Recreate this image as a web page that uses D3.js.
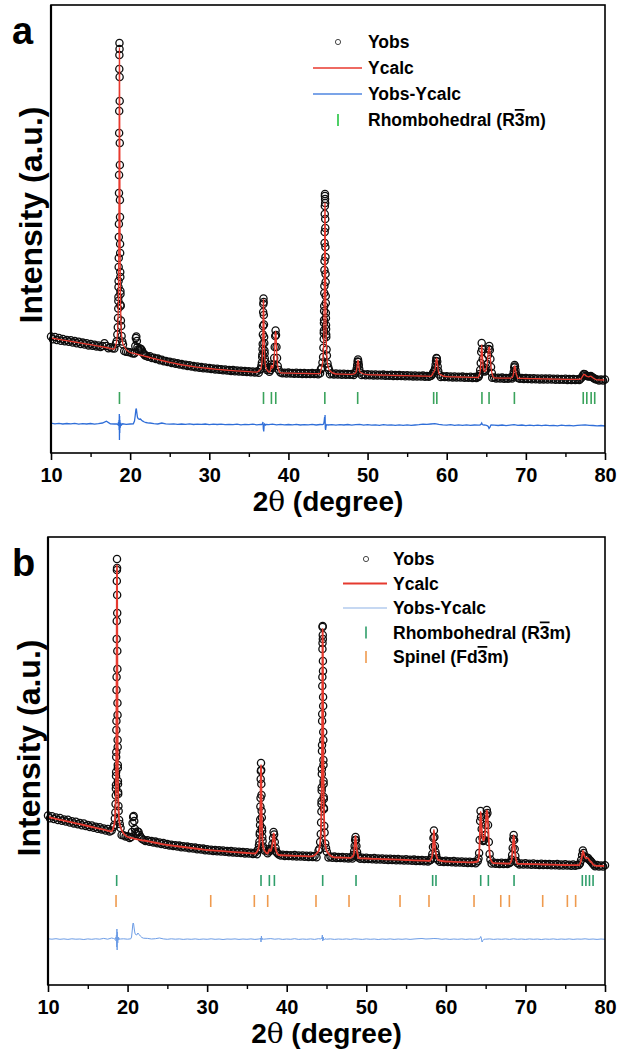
<!DOCTYPE html>
<html><head><meta charset="utf-8">
<script src="https://cdn.jsdelivr.net/npm/d3@7"></script>
<style>
body{margin:0;background:#fff}
svg text{font-family:"Liberation Sans",Arial,sans-serif;font-weight:bold;fill:#000}
</style></head>
<body><svg id="chart" width="622" height="1050"></svg>
<script>
// ---------------- DATA ----------------
const xTickValues = [10,20,30,40,50,60,70,80];
const xMinorValues = [15,25,35,45,55,65,75];
const legendLabels = ["Yobs","Ycalc","Yobs-Ycalc","Rhombohedral (R","Spinel (Fd"];

// grids: 2θ = 10 + i*step
const obsStep = 0.25, calcStep = 1, diffStep = 0.5;

// ---- panel a ----
const a_obs = [
1165,1138,1160,1129, 1150,1122,1141,1118, 1131,1112,1128,1104, 1119,1098,1112,1090,
1104,1085,1097,1076, 1091,1072,1083,1066, 1076,1060,1071,1098, 1070,1048,1058,1047,
1044,1040,1040,1040, 1030,1020,1012,1010, 1008,998,995,990, 985,980,975,970,
975,962,968,950, 952,940,944,928, 933,918,920,909, 912,900,906,892,
897,884,889,878, 882,870,878,866, 870,858,866,853, 860,848,856,845,
851,840,846,834, 842,832,838,828, 836,825,831,820, 829,818,826,815,
823,812,820,810, 818,807,815,806, 814,803,811,808, 806,806,808,806,
804,804,804,804, 806,797,803,795, 804,795,801,793, 802,792,799,791,
800,790,798,789, 799,789,797,787, 797,793,793,793, 791,788,796,786,
795,785,793,783, 793,783,791,782, 790,781,786,786, 784,779,787,778,
788,778,786,776, 786,775,783,774, 784,773,781,772, 782,771,779,770,
780,769,777,768, 778,767,775,766, 776,765,773,764, 774,763,771,762,
772,767,767,767, 765,760,768,759, 768,757,765,756, 766,755,763,754,
764,753,761,752, 762,751,759,750, 760,755,755,755, 753,753,753,752,
756,745,753,744, 754,743,751,742, 752,744,748,748, 750,742,749,740,
749,739,747,738, 748,737,745,736, 746,736,744,735, 745,734,742,733,
743,733,741,732, 742,731,739,730, 740,730,738,729, 735,735,735,735,
733,733,733,733, 736,726,734,725, 735];
const a_calc = [1150,1137,1123,1110,1096,1083,1069,1055,1040,1025,
1005,985,965,945,925,907,890,876,864,854,
845,837,830,824,818,813,809,806,803,801,
799,797,796,794,793,791,790,788,786,784,
783,781,779,777,775,773,771,769,767,765,
763,761,759,757,755,753,751,749,748,746,
745,743,742,740,739,737,736,735,733,731,730];
// [2θ, Yobs, Ycalc] across the peaks
const a_peaks = [
[18.20,1092,1088],[18.30,1118,1121],[18.38,1185,1177],[18.44,1258,1263],[18.47,1350,1337],
[18.50,1445,1451],[18.51,1520,1503],[18.52,1560,1564],[18.53,1660,1638],[18.54,1720,1726],
[18.55,1860,1833],[18.56,1950,1963],[18.57,2160,2120],[18.58,2290,2312],[18.59,2600,2543],
[18.60,2780,2814],[18.61,3200,3122],[18.62,3420,3447],[18.63,3840,3749],[18.64,3980,3969],
[18.65,4100,4050],[18.66,4040,3969],[18.67,3760,3749],[18.68,3520,3447],[18.69,3100,3122],
[18.70,2880,2814],[18.71,2530,2543],[18.72,2360,2312],[18.73,2090,2120],[18.74,2000,1963],
[18.75,1810,1833],[18.76,1760,1726],[18.77,1620,1638],[18.78,1590,1564],[18.79,1480,1503],
[18.80,1470,1451],[18.83,1325,1337],[18.86,1270,1263],[18.92,1170,1177],[19.00,1115,1121],[19.10,1085,1088],
[20.55,1000,995],[20.65,1070,993],[20.72,1150,991],[20.78,1165,990],[20.85,1120,989],
[20.92,1060,987],[21.00,1035,985],[21.12,1030,983],[21.25,1045,980],[21.38,1040,978],
[21.50,1025,975],[21.62,1000,973],[21.75,990,970],[21.88,975,967],
[36.43,835,833],[36.51,842,845],[36.59,875,870],[36.65,905,908],[36.69,960,953],
[36.71,985,987],[36.73,1040,1032],[36.75,1090,1092],[36.77,1185,1172],[36.79,1270,1274],
[36.81,1410,1391],[36.83,1490,1494],[36.85,1545,1537],[36.87,1510,1494],[36.89,1380,1391],
[36.91,1285,1274],[36.93,1160,1172],[36.95,1100,1092],[36.97,1025,1032],[36.99,995,987],
[37.01,948,953],[37.05,912,908],[37.11,868,870],[37.19,848,845],[37.27,830,833],
[37.60,812,808],[37.70,830,820],[37.78,860,850],[37.85,885,875],[37.92,860,855],
[38.00,850,848],[38.10,880,875],[38.20,950,955],[38.27,1060,1060],[38.33,1170,1180],
[38.38,1225,1215],[38.43,1180,1185],[38.49,1060,1070],[38.56,950,945],[38.65,870,870],[38.78,830,828],
[44.10,838,832],[44.20,850,853],[44.30,905,893],[44.38,960,964],[44.42,1052,1028],
[44.46,1140,1134],[44.47,1200,1171],[44.48,1225,1213],[44.49,1300,1262],[44.50,1330,1318],
[44.51,1420,1384],[44.52,1470,1459],[44.53,1600,1546],[44.54,1670,1647],[44.55,1830,1760],
[44.56,1920,1885],[44.57,2100,2020],[44.58,2210,2159],[44.59,2390,2290],[44.60,2470,2400],
[44.61,2570,2474],[44.62,2590,2500],[44.63,2540,2474],[44.64,2500,2400],[44.65,2340,2290],
[44.66,2250,2159],[44.67,2060,2020],[44.68,1960,1885],[44.69,1790,1760],[44.70,1710,1647],
[44.71,1570,1546],[44.72,1500,1459],[44.73,1400,1384],[44.74,1350,1318],[44.75,1280,1262],
[44.76,1240,1213],[44.77,1185,1171],[44.78,1160,1134],[44.82,1035,1028],[44.86,975,964],
[44.94,895,893],[45.04,858,853],[45.14,830,832],
[48.45,800,797],[48.55,815,812],[48.63,845,842],[48.69,880,878],[48.74,915,912],
[48.79,935,928],[48.84,910,912],[48.89,880,878],[48.95,840,842],[49.05,805,808],
[58.05,775,772],[58.20,790,785],[58.30,805,805],[58.38,815,812],[58.46,825,822],
[58.54,850,848],[58.60,885,880],[58.65,920,918],[58.70,950,945],[58.75,945,948],
[58.80,915,915],[58.86,865,870],[58.93,820,825],[59.05,785,790],
[64.05,770,767],[64.15,790,785],[64.23,830,820],[64.30,900,885],[64.36,1010,1000],
[64.42,1100,1080],[64.48,1040,1020],[64.55,940,925],[64.62,860,850],[64.72,830,822],
[64.82,815,814],[64.92,825,822],[65.02,845,845],[65.12,890,895],[65.22,980,990],
[65.30,1040,1045],[65.38,1070,1060],[65.45,1030,1025],[65.52,940,945],[65.60,860,865],[65.70,800,805],
[68.30,760,758],[68.40,780,778],[68.47,810,812],[68.53,855,850],[68.58,880,872],
[68.63,865,868],[68.69,830,835],[68.77,790,795],[68.88,765,767],
[76.90,742,738],[77.05,755,752],[77.20,775,772],[77.32,790,785],[77.45,788,784],
[77.60,775,772],[77.75,770,765],[77.90,765,762],[78.05,768,765],[78.20,770,768],
[78.35,760,760],[78.50,752,750],[78.65,745,742],[78.80,738,736]];
const a_diff = [298,292, 297,290, 295,291, 296,289, 294,290, 295,288, 293,300, 318,292,
290,288, 289,286, 290,292, 340,330, 305,300, 294,290, 300,292, 288,292, 287,290,
286,291, 285,289, 286,290, 284,289, 285,288, 283,287, 284,289, 282,286, 283,288,
282,286, 285,284, 288,282, 287,281, 285,282, 287,280, 284,281, 286,280, 285,290,
282,283, 279,284, 280,285, 278,283, 287,279, 283,278, 282,277, 283,278, 282,276,
281,277, 282,276, 280,284, 289,286, 290,294, 287,282, 278,283, 276,281, 277,282,
276,280, 279,285, 270,260, 279,275, 280,274, 279,283, 276,280, 274,279, 273,278,
274,279, 273,277, 272,278, 273,277, 272,276, 279,282, 277,275, 271,275, 270];
const a_diffPeaks = [
[18.30,290],[18.45,282],[18.52,305],[18.56,270],[18.59,330],[18.61,230],[18.63,390],
[18.65,130],[18.67,370],[18.69,200],[18.71,330],[18.74,250],[18.80,300],[18.90,280],[19.05,292],
[20.40,292],[20.55,320],[20.65,380],[20.72,430],[20.78,445],[20.85,400],[20.92,360],[21.00,345],
[21.15,338],[21.30,340],[21.45,328],[21.60,318],[21.80,310],[22.00,305],[22.20,302],[22.40,298],
[36.60,285],[36.72,292],[36.78,310],[36.83,240],[36.88,215],[36.93,275],[37.00,290],[37.10,280],[37.20,286],
[44.30,284],[44.45,290],[44.52,320],[44.57,360],[44.60,300],[44.63,380],[44.66,250],[44.70,230],
[44.76,270],[44.85,285],[45.00,280],
[64.20,280],[64.35,290],[64.42,300],[64.50,285],[64.70,280],[64.90,278],[65.10,275],[65.25,265],
[65.35,245],[65.45,255],[65.55,275],[65.60,280]];
const a_rhombo = [18.65,36.85,37.85,38.4,44.6,48.75,58.35,58.75,64.45,65.35,68.55,77.25,77.7,78.25,78.7];

// ---- panel b ----
const b_obs = [
1695,1668,1688,1660, 1675,1650,1670,1643, 1656,1634,1652,1625, 1638,1616,1633,1607,
1620,1598,1615,1590, 1601,1581,1596,1572, 1583,1563,1578,1556, 1565,1545,1560,1536,
1545,1580,1600,1600, 1560,1500,1498,1484, 1488,1470,1475,1600, 1525,1535,1500,1470,
1452,1440,1448,1432, 1440,1426,1434,1418, 1425,1410,1419,1403, 1410,1396,1403,1390,
1398,1385,1394,1378, 1388,1374,1384,1368, 1378,1364,1374,1358, 1368,1354,1364,1348,
1358,1345,1352,1340, 1351,1338,1347,1334, 1345,1332,1341,1328, 1339,1326,1335,1322,
1333,1320,1329,1316, 1327,1314,1323,1311, 1322,1308,1370,2100, 1400,1318,1315,1340,
1340,1470,1450,1335, 1306,1294,1303,1291, 1301,1289,1298,1287, 1299,1286,1295,1284,
1296,1283,1292,1281, 1293,1280,1289,1278, 1290,1500,3000,1600, 1330,1276,1284,1272,
1284,1271,1280,1269, 1281,1268,1277,1266, 1278,1265,1350,1400, 1276,1262,1272,1260,
1272,1259,1268,1257, 1269,1256,1265,1254, 1266,1253,1262,1251, 1263,1250,1259,1248,
1260,1247,1256,1245, 1257,1244,1253,1242, 1254,1241,1250,1239, 1251,1238,1247,1236,
1248,1300,1500,1320, 1250,1232,1241,1230, 1242,1229,1238,1227, 1239,1226,1235,1224,
1236,1223,1232,1221, 1233,1220,1229,1218, 1238,1500,1560,1440, 1600,1720,1310,1214,
1225,1212,1221,1211, 1223,1210,1219,1209, 1221,1255,1480,1300, 1219,1206,1215,1205,
1217,1204,1213,1203, 1215,1202,1211,1201, 1213,1200,1209,1199, 1211,1198,1207,1197,
1209,1196,1205,1195, 1207,1194,1203,1193, 1205,1192,1201,1200, 1245,1340,1280,1272,
1240,1235,1210,1188, 1199,1186,1195,1184, 1197];
const b_calc = [1680,1662,1644,1626,1608,1590,1572,1554,1535,1510,
1480,1460,1445,1430,1415,1400,1390,1380,1370,1360,
1350,1344,1338,1332,1326,1320,1315,1310,1305,1300,
1295,1292,1289,1286,1283,1280,1277,1274,1271,1268,
1265,1262,1259,1256,1253,1250,1247,1244,1241,1238,
1235,1232,1229,1226,1223,1220,1218,1216,1214,1212,
1210,1208,1206,1204,1202,1200,1198,1196,1194,1192,1190];
const b_peaks = [
[18.22,1580,1575],[18.32,1600,1604],[18.40,1665,1654],[18.46,1725,1730],[18.49,1810,1795],
[18.52,1895,1896],[18.53,1965,1943],[18.54,2000,1997],[18.55,2090,2062],[18.56,2130,2141],
[18.57,2280,2235],[18.58,2330,2350],[18.59,2550,2490],[18.60,2640,2660],[18.61,2950,2864],
[18.62,3080,3105],[18.63,3460,3378],[18.64,3640,3666],[18.65,4040,3933],[18.66,4150,4128],
[18.67,4260,4200],[18.68,4170,4128],[18.69,3900,3933],[18.70,3720,3666],[18.71,3340,3378],
[18.72,3160,3105],[18.73,2820,2864],[18.74,2700,2660],[18.75,2450,2490],[18.76,2380,2350],
[18.77,2200,2235],[18.78,2170,2141],[18.79,2040,2062],[18.80,2010,1997],[18.81,1930,1943],
[18.82,1910,1896],[18.85,1790,1795],[18.88,1740,1730],[18.94,1650,1654],[19.02,1610,1604],[19.12,1570,1575],
[20.45,1480,1472],[20.55,1530,1470],[20.63,1620,1468],[20.70,1680,1466],[20.77,1690,1465],
[20.84,1640,1463],[20.92,1560,1462],[21.00,1525,1460],[21.12,1510,1458],[21.25,1535,1456],
[21.38,1530,1454],[21.50,1500,1452],[21.65,1480,1450],[21.80,1462,1447],
[36.35,1348,1344],[36.43,1356,1360],[36.51,1398,1390],[36.57,1432,1435],[36.61,1505,1490],
[36.63,1525,1531],[36.65,1600,1586],[36.67,1655,1659],[36.69,1785,1757],[36.71,1870,1881],
[36.73,2060,2023],[36.75,2140,2148],[36.77,2220,2200],[36.79,2150,2148],[36.81,2010,2023],
[36.83,1900,1881],[36.85,1740,1757],[36.87,1675,1659],[36.89,1570,1586],[36.91,1540,1531],
[36.93,1480,1490],[36.97,1440,1435],[37.03,1385,1390],[37.11,1365,1360],[37.20,1345,1344],
[37.60,1318,1315],[37.70,1335,1330],[37.80,1360,1355],[37.90,1345,1350],[38.00,1345,1340],
[38.10,1365,1370],[38.20,1410,1405],[38.28,1470,1460],[38.35,1530,1515],[38.42,1505,1500],
[38.50,1430,1440],[38.60,1370,1365],[38.70,1335,1338],[38.80,1320,1318],
[44.00,1345,1338],[44.10,1360,1365],[44.20,1430,1419],[44.28,1510,1513],[44.32,1625,1599],
[44.36,1735,1740],[44.37,1810,1789],[44.38,1840,1845],[44.39,1945,1910],[44.40,1975,1985],
[44.41,2110,2072],[44.42,2160,2173],[44.43,2340,2289],[44.44,2400,2423],[44.45,2640,2574],
[44.46,2710,2741],[44.47,2990,2921],[44.48,3080,3105],[44.49,3360,3280],[44.50,3420,3426],
[44.51,3580,3525],[44.52,3590,3560],[44.53,3500,3525],[44.54,3460,3426],[44.55,3240,3280],
[44.56,3140,3105],[44.57,2880,2921],[44.58,2790,2741],[44.59,2530,2574],[44.60,2450,2423],
[44.61,2250,2289],[44.62,2200,2173],[44.63,2040,2072],[44.64,2010,1985],[44.65,1880,1910],
[44.66,1860,1845],[44.67,1770,1789],[44.68,1760,1740],[44.72,1590,1599],[44.76,1525,1513],
[44.84,1415,1419],[44.94,1370,1365],[45.04,1332,1338],
[48.30,1285,1288],[48.40,1302,1298],[48.48,1340,1335],[48.54,1390,1395],[48.60,1450,1460],
[48.65,1480,1490],[48.70,1450,1445],[48.76,1390,1385],[48.84,1330,1332],[48.95,1292,1295],
[58.10,1252,1255],[58.20,1272,1268],[58.30,1310,1300],[58.38,1380,1375],[58.44,1470,1480],
[58.50,1545,1550],[58.56,1480,1470],[58.62,1390,1395],[58.70,1330,1340],[58.78,1300,1305],
[58.88,1268,1272],[59.00,1250,1252],
[64.00,1238,1235],[64.10,1265,1260],[64.18,1320,1310],[64.25,1450,1440],[64.31,1640,1620],
[64.36,1740,1730],[64.42,1680,1690],[64.50,1560,1570],[64.60,1470,1480],[64.70,1440,1445],
[64.80,1450,1455],[64.90,1500,1495],[65.00,1600,1590],[65.08,1700,1710],[65.15,1750,1745],
[65.22,1720,1720],[65.30,1600,1610],[65.40,1430,1440],[65.50,1310,1320],[65.60,1255,1262],
[68.15,1230,1228],[68.25,1255,1250],[68.33,1300,1295],[68.40,1370,1380],[68.46,1460,1450],
[68.52,1500,1495],[68.58,1450,1455],[68.65,1360,1370],[68.73,1290,1295],[68.85,1240,1245],
[76.70,1200,1198],[76.85,1215,1212],[77.00,1250,1245],[77.12,1300,1295],[77.22,1345,1340],
[77.32,1320,1318],[77.45,1280,1285],[77.60,1270,1268],[77.75,1275,1272],[77.90,1268,1265],
[78.05,1250,1245],[78.20,1240,1235],[78.35,1225,1222],[78.50,1210,1205],[78.65,1198,1196]];
const b_diff = [462,458, 463,457, 461,456, 462,458, 460,455, 461,457, 462,458, 466,458,
470,460, 460,462, 458,480, 500,500, 468,466, 460,463, 470,461, 457,462, 458,461,
456,460, 457,461, 456,460, 457,462, 457,460, 455,460, 458,461, 456,460, 457,461,
456,460, 458,461, 464,458, 462,456, 460,457, 463,456, 460,457, 461,456, 463,460,
458,461, 456,460, 457,461, 456,462, 459,456, 461,457, 460,455, 460,457, 461,456,
460,457, 461,456, 460,463, 465,460, 462,465, 463,457, 461,456, 460,457, 461,456,
460,457, 460,460, 458,461, 456,460, 457,461, 456,462, 457,460, 456,461, 457,460,
455,460, 457,461, 456,460, 457,461, 456,460, 458,462, 457,460, 456,460, 457];
const b_diffPeaks = [
[18.25,465],[18.40,458],[18.50,475],[18.56,440],[18.60,500],[18.63,380],[18.66,560],
[18.69,350],[18.72,530],[18.76,420],[18.82,480],[18.90,450],[19.00,466],[19.10,460],
[20.40,462],[20.50,480],[20.58,540],[20.65,600],[20.70,620],[20.76,610],[20.84,560],
[20.92,520],[21.00,505],[21.15,500],[21.30,520],[21.45,505],[21.60,490],[21.80,475],[22.00,468],
[36.60,460],[36.72,470],[36.77,430],[36.82,490],[36.88,450],[36.96,465],[37.10,458],
[44.30,460],[44.42,470],[44.48,500],[44.53,440],[44.58,480],[44.65,450],[44.80,462],
[64.20,461],[64.30,470],[64.38,485],[64.45,470],[64.55,430],[64.65,445],[64.80,458]];
const b_rhombo = [18.63,36.77,37.82,38.45,44.52,48.71,58.34,58.76,64.38,65.34,68.57,77.15,77.6,78.05,78.5];
const b_spinel = [18.55,30.45,35.93,37.61,43.68,47.83,54.24,57.88,63.54,66.9,67.98,72.17,75.27,76.31];

// ---------------- HELPERS ----------------
function detailWindows(detail){
  const xs = detail.map(d=>d[0]).sort((p,q)=>p-q);
  const w=[]; let s=xs[0], e=xs[0];
  for(let i=1;i<xs.length;i++){ if(xs[i]-e>0.5){w.push([s,e]); s=xs[i];} e=xs[i]; }
  w.push([s,e]); return w;
}
function mergeSeries(grid, step, detail, k){
  const w = detailWindows(detail);
  const pts = grid.map((v,i)=>[10+i*step, v])
    .filter(p=>!w.some(([s,e])=>p[0]>=s-1e-6 && p[0]<=e+1e-6));
  detail.forEach(d=>pts.push([d[0], d[k]]));
  return pts.sort((p,q)=>p[0]-q[0]);
}

const svg = d3.select("#chart");

function drawPanel(cfg){
  const {left,right,top,bottom} = cfg.box;
  const x = d3.scaleLinear().domain([10,80]).range([left,right]);
  const y = d3.scaleLinear().domain([0,4480]).range([bottom,top]);
  const g = svg.append("g");

  const obs = mergeSeries(cfg.obs, obsStep, cfg.peaks, 1);
  const calc = mergeSeries(cfg.calc, calcStep, cfg.peaks, 2);
  const diff = mergeSeries(cfg.diff, diffStep, cfg.diffPeaks, 1);

  // Yobs circles
  g.append("g").selectAll("circle").data(obs).join("circle")
    .attr("cx",d=>x(d[0])).attr("cy",d=>y(d[1])).attr("r",3.6)
    .attr("fill","none").attr("stroke","#0d0d0d").attr("stroke-width",1.3);
  // Ycalc
  g.append("path").datum(calc)
    .attr("d",d3.line().x(d=>x(d[0])).y(d=>y(d[1])).curve(d3.curveMonotoneX))
    .attr("fill","none").attr("stroke",cfg.calcColor).attr("stroke-width",cfg.calcWidth);
  // difference
  g.append("path").datum(diff)
    .attr("d",d3.line().x(d=>x(d[0])).y(d=>y(d[1])))
    .attr("fill","none").attr("stroke",cfg.diffColor).attr("stroke-width",cfg.diffWidth);
  // Bragg ticks
  cfg.tickRows.forEach(r=>{
    g.append("g").selectAll("line").data(r.data).join("line")
      .attr("x1",d=>x(d)).attr("x2",d=>x(d)).attr("y1",r.y1).attr("y2",r.y2)
      .attr("stroke",r.color).attr("stroke-width",1.6);
  });

  // frame
  g.append("rect").attr("x",left).attr("y",top).attr("width",right-left).attr("height",bottom-top)
    .attr("fill","none").attr("stroke","#000").attr("stroke-width",1.6);
  g.append("line").attr("x1",left).attr("x2",left).attr("y1",top).attr("y2",bottom)
    .attr("stroke","#000").attr("stroke-width",2.2);

  // x axis
  const ax = g.append("g").attr("transform",`translate(0,${bottom})`)
    .call(d3.axisBottom(x).tickValues(xTickValues).tickSize(7).tickPadding(8).tickFormat(d3.format("d")));
  ax.select(".domain").remove();
  ax.selectAll("line").attr("stroke","#000").attr("stroke-width",1.6);
  ax.selectAll("text").attr("font-size",20).attr("font-family","'Liberation Sans',Arial,sans-serif").attr("font-weight","bold").attr("fill","#000");
  const axm = g.append("g").attr("transform",`translate(0,${bottom})`)
    .call(d3.axisBottom(x).tickValues(xMinorValues).tickSize(4).tickFormat(""));
  axm.select(".domain").remove();
  axm.selectAll("line").attr("stroke","#000").attr("stroke-width",1.4);

  // titles
  const xt = g.append("text").attr("x",(left+right)/2).attr("y",cfg.xTitleY)
    .attr("text-anchor","middle").attr("font-size",28);
  xt.append("tspan").text("2");
  xt.append("tspan").attr("font-family","'DejaVu Serif',serif").attr("font-weight","normal").text("θ");
  xt.append("tspan").text(" (degree)");
  g.append("text").attr("transform",`translate(${cfg.yTitleX},${cfg.yTitleY}) rotate(-90)`)
    .attr("text-anchor","middle").attr("font-size",32).text("Intensity (a.u.)");
  g.append("text").attr("x",cfg.labelX).attr("y",cfg.labelY).attr("font-size",38).text(cfg.label);

  // legend
  const L = cfg.legend;
  const lg = g.append("g");
  L.rows.forEach((row,i)=>{
    const cy = L.y0 + i*L.dy;
    if(row.type==="circle"){
      lg.append("circle").attr("cx",L.sx).attr("cy",cy).attr("r",2.6).attr("fill","none").attr("stroke","#333").attr("stroke-width",0.9);
    } else if(row.type==="line"){
      lg.append("line").attr("x1",L.lx1).attr("x2",L.lx2).attr("y1",cy).attr("y2",cy)
        .attr("stroke",row.color).attr("stroke-width",row.width);
    } else {
      lg.append("line").attr("x1",L.sx).attr("x2",L.sx).attr("y1",cy-6).attr("y2",cy+6)
        .attr("stroke",row.color).attr("stroke-width",1.6);
    }
    const t = lg.append("text").attr("x",L.tx).attr("y",cy+6).attr("font-size",17.5);
    if(row.bar){
      t.append("tspan").text(row.text);
      t.append("tspan").attr("text-decoration","overline").style("text-decoration","overline").text("3");
      t.append("tspan").text("m)");
    } else t.text(row.text);
  });
}

drawPanel({
  box:{left:51,right:605,top:5,bottom:453},
  obs:a_obs, calc:a_calc, peaks:a_peaks, diff:a_diff, diffPeaks:a_diffPeaks,
  calcColor:"#e8392e", calcWidth:1.3, diffColor:"#2f6ed8", diffWidth:1.3,
  tickRows:[{data:a_rhombo, y1:392, y2:404, color:"#3aa35c"}],
  xTitleY:511, yTitleX:42, yTitleY:215, label:"a", labelX:12, labelY:44,
  legend:{sx:338, lx1:313, lx2:362, tx:368, y0:42, dy:26,
    rows:[{type:"circle",text:legendLabels[0]},{type:"line",color:"#e8392e",width:1.3,text:legendLabels[1]},
          {type:"line",color:"#4f86e0",width:1.3,text:legendLabels[2]},{type:"tick",color:"#22c440",text:legendLabels[3],bar:true}]}
});
drawPanel({
  box:{left:48,right:605,top:537,bottom:985},
  obs:b_obs, calc:b_calc, peaks:b_peaks, diff:b_diff, diffPeaks:b_diffPeaks,
  calcColor:"#e53a2f", calcWidth:1.8, diffColor:"#6d9de6", diffWidth:1.0,
  tickRows:[{data:b_rhombo, y1:875, y2:886, color:"#2f9e6a"},{data:b_spinel, y1:895, y2:907, color:"#ef9a4e"}],
  xTitleY:1043, yTitleX:40, yTitleY:748, label:"b", labelX:12, labelY:576,
  legend:{sx:366, lx1:343, lx2:387, tx:393, y0:559, dy:24.5,
    rows:[{type:"circle",text:legendLabels[0]},{type:"line",color:"#e53a2f",width:2,text:legendLabels[1]},
          {type:"line",color:"#c6d8f2",width:2,text:legendLabels[2]},{type:"tick",color:"#2f9e6a",text:legendLabels[3],bar:true},
          {type:"tick",color:"#ef9a4e",text:legendLabels[4],bar:true}]}
});
</script></body></html>
